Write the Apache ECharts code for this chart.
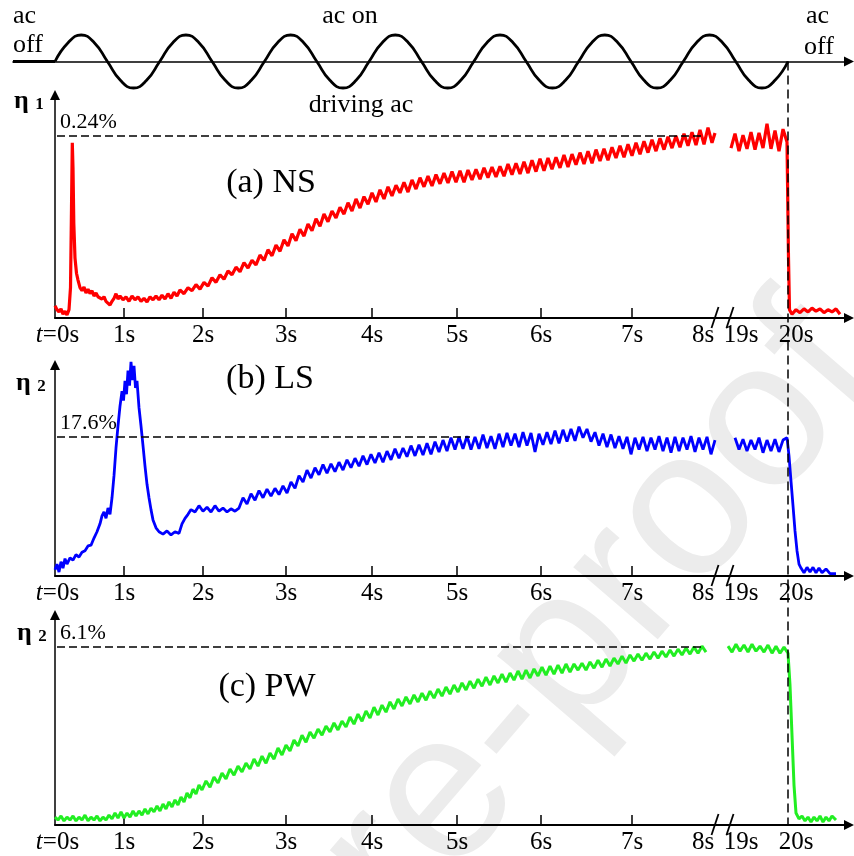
<!DOCTYPE html>
<html>
<head>
<meta charset="utf-8">
<script src="https://cdn.jsdelivr.net/npm/echarts@6/dist/echarts.min.js"></script>
<style>
html,body{margin:0;padding:0;background:#fff}
#main{width:854px;height:856px}
</style>
</head>
<body>
<div id="main"></div>
<script>
// x is the plot position along the (broken) time axis, tick labels give the time
var tickPos = [0.25, 6.9, 14.8, 23.1, 31.7, 40.2, 48.6, 57.7, 64.8, 68.6, 74.1];
var tickText = ['{it|t}=0s', '1s', '2s', '3s', '4s', '5s', '6s', '7s', '8s', '19s', '20s'];
var tickMarks = [6.9, 14.8, 23.1, 31.7, 40.2, 48.6, 57.7];
var breakPos = [66.0, 67.5];
var acOffAt = 73.3;

// saturation levels (dashed lines) of the three panels
var satLevels = [0.24, 17.6, 6.1];
var satEnd = [64.8, 41.5, 65.0];

// driving ac (schematic)
var acOff = [[-4.2, 0], [0, 0]];
var acWave = [[0,0],[1.31,0.71],[2.62,1],[3.93,0.71],[5.24,0],[6.54,-0.71],[7.85,-1],[9.16,-0.71],
  [10.47,0],[11.78,0.71],[13.09,1],[14.40,0.71],[15.71,0],[17.02,-0.71],[18.32,-1],[19.63,-0.71],
  [20.94,0],[22.25,0.71],[23.56,1],[24.87,0.71],[26.18,0],[27.49,-0.71],[28.80,-1],[30.11,-0.71],
  [31.41,0],[32.72,0.71],[34.03,1],[35.34,0.71],[36.65,0],[37.96,-0.71],[39.27,-1],[40.58,-0.71],
  [41.88,0],[43.19,0.71],[44.50,1],[45.81,0.71],[47.12,0],[48.43,-0.71],[49.74,-1],[51.05,-0.71],
  [52.36,0],[53.67,0.71],[54.98,1],[56.29,0.71],[57.60,0],[58.90,-0.71],[60.21,-1],[61.52,-0.71],
  [62.83,0],[64.14,0.71],[65.45,1],[66.76,0.71],[68.07,0],[69.38,-0.71],[70.69,-1],[72.00,-0.71],[73.30,0]];

// (a) NS, eta1 in %
var nsData = [[0.0,0.016],[0.2,0.011],[0.4,0.008],[0.6,0.012],[0.8,0.005],[1.0,0.009],[1.2,0.004],[1.4,0.011],
  [1.55,0.040],[1.65,0.145],[1.73,0.231],[1.8,0.198],[1.88,0.125],[2.0,0.079],[2.15,0.059],[2.3,0.050],
  [2.5,0.040],[2.7,0.036],[2.9,0.041],[3.1,0.033],[3.3,0.038],[3.5,0.032],[3.7,0.036],[3.9,0.029],
  [4.1,0.033],[4.3,0.028],[4.5,0.030],[4.7,0.025],[4.9,0.028],[5.1,0.022],[5.3,0.020],[5.5,0.017],
  [5.7,0.022],[5.9,0.026],[6.1,0.032],[6.3,0.025],[6.5,0.029],[6.8,0.024],[7.1,0.028],[7.4,0.022],
  [7.7,0.029],[8.0,0.024],[8.3,0.028],[8.6,0.022],[8.9,0.026],[9.2,0.021],[9.5,0.028],[9.8,0.024],
  [10.1,0.029],[10.4,0.024],[10.7,0.030],[11.0,0.025],[11.3,0.032],[11.6,0.026],[11.9,0.034],[12.2,0.029],
  [12.5,0.037],[12.9,0.032],[13.3,0.040],[13.7,0.036],[14.1,0.044],[14.5,0.038],[14.9,0.047],[15.3,0.042],
  [15.7,0.053],[16.1,0.047],[16.5,0.057],[16.9,0.051],[17.3,0.062],[17.7,0.057],[18.1,0.067],[18.5,0.061],
  [18.9,0.073],[19.3,0.066],[19.7,0.076],[20.1,0.070],[20.5,0.083],[20.9,0.076],[21.3,0.090],[21.7,0.082],
  [22.1,0.096],[22.5,0.088],[22.9,0.103],[23.3,0.095],[23.7,0.111],[24.1,0.102],[24.5,0.117],[24.9,0.108],
  [25.3,0.124],[25.7,0.115],[26.1,0.131],[26.5,0.121],[26.9,0.137],[27.3,0.127],[27.7,0.141],[28.1,0.132],
  [28.5,0.146],[28.9,0.137],[29.3,0.152],[29.7,0.141],[30.1,0.157],[30.5,0.145],[30.9,0.160],[31.3,0.150],
  [31.7,0.165],[32.1,0.153],[32.5,0.169],[32.9,0.157],[33.3,0.173],[33.7,0.161],[34.1,0.175],[34.5,0.165],
  [34.9,0.179],[35.3,0.166],[35.7,0.182],[36.1,0.170],[36.5,0.185],[36.9,0.173],[37.3,0.187],[37.7,0.174],
  [38.1,0.189],[38.5,0.177],[38.9,0.191],[39.3,0.178],[39.7,0.193],[40.1,0.179],[40.5,0.194],[40.9,0.179],
  [41.3,0.195],[41.7,0.182],[42.1,0.196],[42.5,0.183],[42.9,0.198],[43.3,0.185],[43.7,0.199],[44.1,0.186],
  [44.5,0.200],[44.9,0.187],[45.3,0.203],[45.7,0.189],[46.1,0.204],[46.5,0.190],[46.9,0.206],[47.3,0.191],
  [47.7,0.208],[48.1,0.193],[48.5,0.210],[48.9,0.194],[49.3,0.211],[49.7,0.196],[50.1,0.212],[50.5,0.198],
  [50.9,0.215],[51.3,0.199],[51.7,0.216],[52.1,0.202],[52.5,0.218],[52.9,0.203],[53.3,0.220],[53.7,0.204],
  [54.1,0.222],[54.5,0.207],[54.9,0.223],[55.3,0.208],[55.7,0.225],[56.1,0.211],[56.5,0.227],[56.9,0.212],
  [57.3,0.229],[57.7,0.214],[58.1,0.231],[58.5,0.216],[58.9,0.233],[59.3,0.218],[59.7,0.235],[60.1,0.220],
  [60.5,0.237],[60.9,0.222],[61.3,0.239],[61.7,0.224],[62.1,0.240],[62.5,0.225],[62.9,0.243],[63.3,0.227],
  [63.7,0.245],[64.1,0.228],[64.5,0.248],[64.9,0.229],[65.3,0.251],[65.7,0.231],[66.0,0.244],[66.8,null],
  [67.6,0.224],[68.0,0.243],[68.4,0.220],[68.8,0.241],[69.2,0.223],[69.6,0.245],[70.0,0.222],[70.4,0.244],
  [70.8,0.224],[71.2,0.256],[71.6,0.223],[72.0,0.247],[72.4,0.220],[72.8,0.249],[73.2,0.232],[73.35,0.079],
  [73.45,0.011],[73.7,0.005],[74.1,0.011],[74.5,0.007],[74.9,0.012],[75.3,0.008],[75.7,0.013],[76.1,0.009],
  [76.5,0.012],[76.9,0.007],[77.3,0.011],[77.7,0.008],[78.1,0.012],[78.5,0.005]];

// (b) LS, eta2 in %
var lsData = [[0.0,0.8],[0.2,1.5],[0.4,0.5],[0.6,1.8],[0.8,1.0],[1.0,2.2],[1.2,1.5],[1.5,2.3],[1.8,2.0],
  [2.1,2.7],[2.4,2.4],[2.7,3.0],[3.0,3.2],[3.3,3.8],[3.6,3.9],[3.9,4.8],[4.2,5.6],[4.5,6.6],[4.7,7.6],
  [4.9,8.1],[5.1,7.3],[5.3,8.6],[5.5,7.8],[5.7,9.9],[5.9,12.7],[6.1,16.2],[6.3,19.0],[6.5,21.5],[6.7,23.4],
  [6.85,22.2],[7.0,24.7],[7.15,23.0],[7.3,26.0],[7.45,24.1],[7.6,27.1],[7.75,24.8],[7.9,26.6],[8.05,23.8],
  [8.2,24.7],[8.4,21.3],[8.6,19.0],[8.8,16.5],[9.0,13.9],[9.2,11.6],[9.4,9.9],[9.6,8.4],[9.8,7.1],[10.1,6.1],
  [10.4,5.6],[10.8,5.3],[11.2,5.7],[11.6,5.2],[12.0,5.6],[12.4,5.4],[12.7,6.6],[13.0,7.3],[13.3,7.8],[13.6,8.4],
  [14.0,8.1],[14.4,8.9],[14.8,8.2],[15.2,8.7],[15.6,8.1],[16.0,8.9],[16.4,8.2],[16.8,8.6],[17.2,8.1],[17.6,8.5],
  [18.0,8.2],[18.4,8.6],[18.8,9.9],[19.2,9.1],[19.6,10.4],[20.0,9.6],[20.4,10.8],[20.8,9.9],[21.2,11.0],[21.6,10.1],
  [22.0,11.1],[22.4,10.3],[22.8,11.4],[23.2,10.5],[23.6,11.9],[24.0,11.1],[24.4,12.7],[24.8,11.9],[25.2,13.4],
  [25.6,12.4],[26.0,13.7],[26.4,12.8],[26.8,14.1],[27.2,13.0],[27.6,14.2],[28.0,13.2],[28.4,14.4],[28.8,13.4],
  [29.2,14.7],[29.6,13.7],[30.0,14.9],[30.4,13.9],[30.8,15.2],[31.2,14.1],[31.6,15.4],[32.0,14.3],[32.4,15.6],
  [32.8,14.4],[33.2,15.8],[33.6,14.7],[34.0,16.1],[34.4,14.9],[34.8,16.2],[35.2,15.1],[35.6,16.5],[36.0,15.2],
  [36.4,16.6],[36.8,15.3],[37.2,16.8],[37.6,15.4],[38.0,17.0],[38.4,15.7],[38.8,17.2],[39.2,15.8],[39.6,17.5],
  [40.0,16.0],[40.4,17.6],[40.8,16.1],[41.2,17.7],[41.6,16.0],[42.0,17.6],[42.4,16.1],[42.8,17.9],[43.2,16.2],
  [43.6,17.7],[44.0,16.1],[44.4,18.0],[44.8,16.3],[45.2,18.1],[45.6,16.5],[46.0,18.0],[46.4,16.3],[46.8,18.2],
  [47.2,16.5],[47.6,18.1],[48.0,15.7],[48.4,18.0],[48.8,16.6],[49.2,18.2],[49.6,16.7],[50.0,18.4],[50.4,16.8],
  [50.8,18.5],[51.2,17.0],[51.6,18.6],[52.0,17.1],[52.4,18.9],[52.8,17.5],[53.2,18.6],[53.6,17.0],[54.0,18.2],
  [54.4,16.5],[54.8,18.0],[55.2,16.3],[55.6,17.9],[56.0,16.2],[56.4,17.7],[56.8,16.1],[57.2,17.6],[57.6,15.4],
  [58.0,17.5],[58.4,16.0],[58.8,17.6],[59.2,15.8],[59.6,17.5],[60.0,16.0],[60.4,17.7],[60.8,15.8],[61.2,17.5],
  [61.6,15.6],[62.0,17.6],[62.4,15.8],[62.8,17.5],[63.2,16.0],[63.6,17.7],[64.0,15.7],[64.4,17.5],[64.8,16.0],
  [65.2,17.6],[65.6,15.4],[66.0,17.2],[67.0,null],[68.0,17.5],[68.4,16.0],[68.8,17.3],[69.2,15.8],[69.6,17.2],
  [70.0,16.0],[70.4,17.5],[70.8,15.6],[71.2,17.2],[71.6,15.8],[72.0,17.3],[72.4,15.7],[72.8,17.2],[73.2,17.5],
  [73.4,15.2],[73.6,12.0],[73.8,8.9],[74.0,5.7],[74.2,3.2],[74.4,1.5],[74.6,1.0],[74.9,0.4],[75.2,1.1],[75.5,0.5],
  [75.8,1.1],[76.1,0.4],[76.4,1.0],[76.7,0.4],[77.1,0.9],[77.5,0.3],[78.1,0.3]];

// (c) PW, eta2 in %
var pwData = [[0.0,0.27],[0.3,0.17],[0.6,0.31],[0.9,0.14],[1.2,0.27],[1.5,0.17],[1.8,0.31],[2.1,0.14],[2.4,0.27],
  [2.7,0.17],[3.0,0.34],[3.3,0.14],[3.6,0.27],[3.9,0.17],[4.2,0.31],[4.5,0.14],[4.8,0.27],[5.1,0.17],[5.4,0.34],
  [5.7,0.21],[6.0,0.41],[6.3,0.24],[6.6,0.45],[6.9,0.24],[7.2,0.41],[7.5,0.27],[7.8,0.48],[8.1,0.31],[8.4,0.48],
  [8.7,0.34],[9.0,0.55],[9.3,0.38],[9.6,0.58],[9.9,0.45],[10.2,0.65],[10.5,0.48],[10.8,0.72],[11.1,0.55],[11.4,0.79],
  [11.7,0.62],[12.0,0.86],[12.3,0.69],[12.6,0.96],[12.9,0.79],[13.2,1.10],[13.5,0.93],[13.8,1.23],[14.1,1.06],
  [14.4,1.37],[14.7,1.20],[15.1,1.51],[15.5,1.30],[15.9,1.64],[16.3,1.44],[16.7,1.78],[17.1,1.58],[17.5,1.92],
  [17.9,1.71],[18.3,2.02],[18.7,1.82],[19.1,2.12],[19.5,1.92],[19.9,2.26],[20.3,2.02],[20.7,2.36],[21.1,2.12],
  [21.5,2.47],[21.9,2.26],[22.3,2.64],[22.7,2.40],[23.1,2.74],[23.5,2.54],[23.9,2.91],[24.3,2.71],[24.7,3.08],
  [25.1,2.84],[25.5,3.19],[25.9,2.98],[26.3,3.29],[26.7,3.08],[27.1,3.39],[27.5,3.19],[27.9,3.50],[28.3,3.26],
  [28.7,3.56],[29.1,3.36],[29.5,3.70],[29.9,3.46],[30.3,3.80],[30.7,3.56],[31.1,3.91],[31.5,3.67],[31.9,4.04],
  [32.3,3.77],[32.7,4.11],[33.1,3.87],[33.5,4.22],[33.9,3.98],[34.3,4.32],[34.7,4.08],[35.1,4.39],[35.5,4.15],
  [35.9,4.46],[36.3,4.22],[36.7,4.52],[37.1,4.28],[37.5,4.59],[37.9,4.35],[38.3,4.66],[38.7,4.42],[39.1,4.73],
  [39.5,4.49],[39.9,4.80],[40.3,4.56],[40.7,4.87],[41.1,4.63],[41.5,4.93],[41.9,4.69],[42.3,5.00],[42.7,4.76],
  [43.1,5.07],[43.5,4.80],[43.9,5.11],[44.3,4.87],[44.7,5.17],[45.1,4.90],[45.5,5.21],[45.9,4.97],[46.3,5.28],
  [46.7,5.00],[47.1,5.31],[47.5,5.04],[47.9,5.35],[48.3,5.11],[48.7,5.41],[49.1,5.14],[49.5,5.45],[49.9,5.17],
  [50.3,5.48],[50.7,5.21],[51.1,5.52],[51.5,5.24],[51.9,5.52],[52.3,5.31],[52.7,5.55],[53.1,5.31],[53.5,5.59],
  [53.9,5.38],[54.3,5.65],[54.7,5.41],[55.1,5.69],[55.5,5.45],[55.9,5.72],[56.3,5.52],[56.7,5.79],[57.1,5.55],
  [57.5,5.83],[57.9,5.62],[58.3,5.86],[58.7,5.65],[59.1,5.89],[59.5,5.69],[59.9,5.93],[60.3,5.72],[60.7,5.96],
  [61.1,5.76],[61.5,6.00],[61.9,5.79],[62.3,6.03],[62.7,5.83],[63.1,6.07],[63.5,5.86],[63.9,6.10],[64.3,5.89],
  [64.7,6.13],[65.1,5.93],[66.2,null],[67.3,6.13],[67.7,5.93],[68.1,6.20],[68.5,5.96],[68.9,6.17],[69.3,5.93],
  [69.7,6.20],[70.1,5.96],[70.5,6.13],[70.9,5.93],[71.3,6.17],[71.7,5.89],[72.1,6.13],[72.5,5.89],[72.9,6.10],
  [73.3,5.89],[73.5,4.80],[73.7,3.08],[73.9,1.37],[74.1,0.41],[74.4,0.21],[74.7,0.31],[75.0,0.14],[75.3,0.27],
  [75.6,0.10],[75.9,0.27],[76.2,0.14],[76.5,0.31],[76.8,0.10],[77.1,0.27],[77.4,0.14],[77.7,0.31],[78.1,0.17]];

var serif = 'Liberation Serif';
var chart = echarts.init(document.getElementById('main'), null, {renderer: 'canvas'});

// grid layout: sine on top, then the three panels
var grids = [
  {left: 13, right: 5, top: 35, height: 53},
  {left: 55, right: 5, top: 95, height: 223},
  {left: 55, right: 5, top: 365, height: 211},
  {left: 55, right: 5, top: 615, height: 210}
];
var yMax = [0.294, 26.7, 7.2];

function labelFmt(v) {
  for (var i = 0; i < tickPos.length; i++) {
    if (Math.abs(tickPos[i] - v) < 1e-6) return tickText[i];
  }
  return '';
}

var xAxes = [], yAxes = [];
for (var g = 0; g < 4; g++) {
  xAxes.push({
    type: 'value', gridIndex: g,
    min: g == 0 ? -4.2 : 0, max: 79.4,
    axisLine: {show: true, symbol: ['none', 'triangle'], symbolSize: [10, 10],
      lineStyle: {color: '#000', width: g == 0 ? 1.6 : 2}},
    axisTick: {show: g > 0, inside: true, length: 10, customValues: tickMarks,
      lineStyle: {color: '#000', width: 1.5}},
    axisLabel: {show: g > 0, customValues: tickPos, formatter: labelFmt, margin: 5,
      fontFamily: serif, fontSize: 25, color: '#000',
      rich: {it: {fontStyle: 'italic', fontFamily: serif, fontSize: 25, color: '#000'}}},
    splitLine: {show: false}
  });
  if (g == 0) {
    yAxes.push({type: 'value', gridIndex: 0, min: -1, max: 1, show: false});
  } else {
    yAxes.push({
      type: 'value', gridIndex: g, min: 0, max: yMax[g - 1],
      axisLine: {show: true, symbol: ['none', 'triangle'], symbolSize: [10, 10],
        lineStyle: {color: '#000', width: 1.5}},
      axisTick: {show: false}, axisLabel: {show: false}, splitLine: {show: false}
    });
  }
}

function satLine(i) {
  return {
    silent: true, symbol: 'none',
    lineStyle: {color: '#000', type: [8, 4], width: 1.5},
    label: {show: true, position: 'insideStartTop', distance: 3,
      formatter: satLevels[i] + '%', fontFamily: serif, fontSize: 22, color: '#000'},
    data: [[{coord: [0.2, satLevels[i]]}, {coord: [satEnd[i], satLevels[i]]}]]
  };
}

var option = {
  animation: false,
  backgroundColor: '#fff',
  grid: grids,
  xAxis: xAxes,
  yAxis: yAxes,
  series: [
    {type: 'line', xAxisIndex: 0, yAxisIndex: 0, data: acOff, symbol: 'none', clip: false,
      lineStyle: {color: '#000', width: 2.8}},
    {type: 'line', xAxisIndex: 0, yAxisIndex: 0, data: acWave, symbol: 'none', smooth: 0.5, clip: false,
      lineStyle: {color: '#000', width: 2.8}},
    {type: 'line', xAxisIndex: 1, yAxisIndex: 1, data: nsData, symbol: 'none', clip: false,
      connectNulls: false, lineStyle: {color: '#ff0000', width: 3.2, join: 'bevel'}, markLine: satLine(0)},
    {type: 'line', xAxisIndex: 2, yAxisIndex: 2, data: lsData, symbol: 'none', clip: false,
      connectNulls: false, lineStyle: {color: '#0000ff', width: 2.8, join: 'bevel'}, markLine: satLine(1)},
    {type: 'line', xAxisIndex: 3, yAxisIndex: 3, data: pwData, symbol: 'none', clip: false,
      connectNulls: false, lineStyle: {color: '#22ee22', width: 3.0, join: 'bevel'}, markLine: satLine(2)}
  ]
};
chart.setOption(option);

function toPx(g, x, y) {
  return chart.convertToPixel({xAxisIndex: g, yAxisIndex: g}, [x, y]);
}

var graphics = [];
// watermark
graphics.push({type: 'text', x: 555, y: 670, rotation: 0.86, z: -10, silent: true,
  style: {text: 'Pre-proof', fontFamily: 'Liberation Sans', fontSize: 210, fill: '#ececec',
    textAlign: 'center', textVerticalAlign: 'middle'}});

// ac off moment
var pTop = toPx(0, acOffAt, 0), pBot = toPx(3, acOffAt, 0);
graphics.push({type: 'line', z: 50, silent: true,
  shape: {x1: pTop[0], y1: pTop[1], x2: pBot[0], y2: pBot[1]},
  style: {stroke: '#000', lineWidth: 1.5, lineDash: [9, 5]}});

// axis break marks
for (var g2 = 1; g2 < 4; g2++) {
  for (var b = 0; b < breakPos.length; b++) {
    var p = toPx(g2, breakPos[b], 0);
    graphics.push({type: 'line', z: 50, silent: true,
      shape: {x1: p[0] - 3.5, y1: p[1] + 10, x2: p[0] + 3.5, y2: p[1] - 11},
      style: {stroke: '#000', lineWidth: 1.8}});
  }
}

function txt(x, y, s, size, align, extra) {
  var st = {text: s, x: 0, y: 0, fontFamily: serif, fontSize: size, fill: '#000',
    textAlign: align || 'left', textVerticalAlign: 'middle'};
  if (extra) for (var k in extra) st[k] = extra[k];
  return {type: 'text', x: x, y: y, z: 60, silent: true, style: st};
}
graphics.push(txt(13, 16, 'ac', 26));
graphics.push(txt(13, 45, 'off', 26));
graphics.push(txt(806, 16, 'ac', 26));
graphics.push(txt(804, 47, 'off', 26));
graphics.push(txt(350, 16, 'ac on', 26, 'center'));
graphics.push(txt(361, 105, 'driving ac', 26, 'center'));
graphics.push(txt(271, 183, '(a) NS', 34, 'center'));
graphics.push(txt(270, 379, '(b) LS', 34, 'center'));
graphics.push(txt(267, 687, '(c) PW', 34, 'center'));

var etaRich = {e: {fontFamily: serif, fontSize: 26, fontWeight: 'bold'},
  s: {fontFamily: serif, fontSize: 17, fontWeight: 'bold', padding: [8, 0, 0, 0]}};
graphics.push(txt(14, 101, '{e|η} {s|1}', 26, 'left', {rich: etaRich}));
graphics.push(txt(16, 383, '{e|η} {s|2}', 26, 'left', {rich: etaRich}));
graphics.push(txt(17, 633, '{e|η} {s|2}', 26, 'left', {rich: etaRich}));

chart.setOption({graphic: graphics});
</script>
</body>
</html>
